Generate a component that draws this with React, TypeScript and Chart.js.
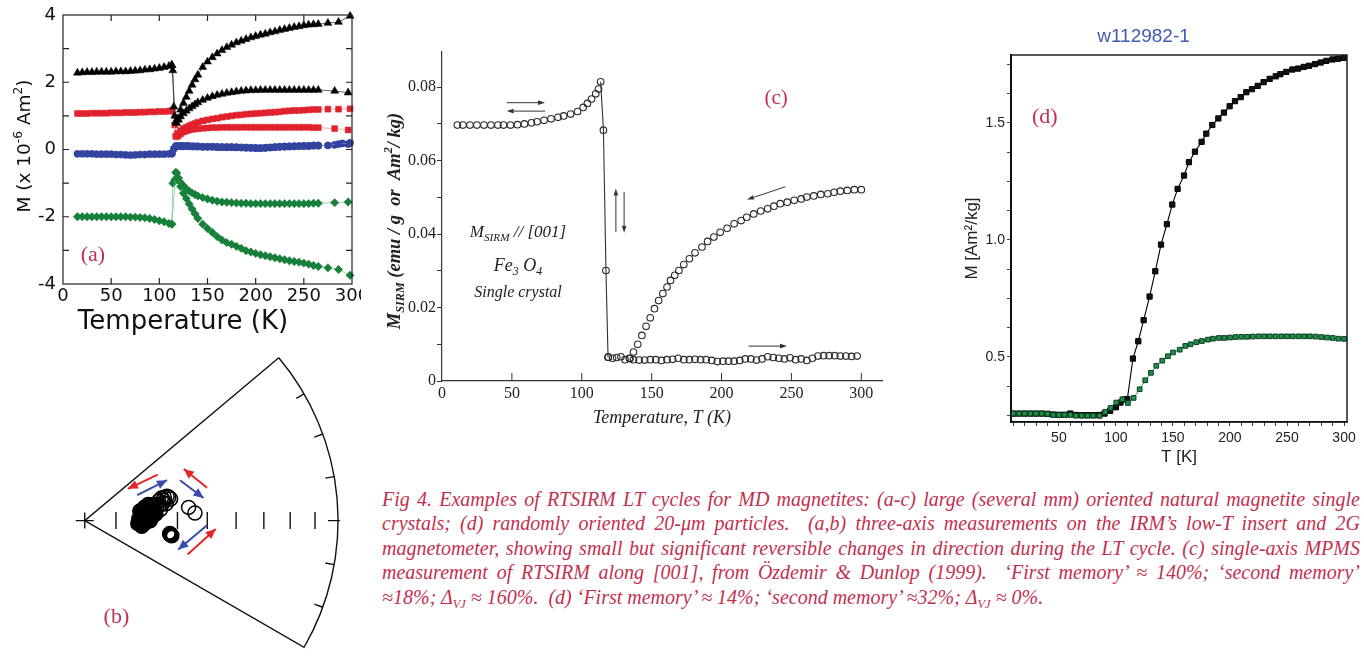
import React, { useEffect, useLayoutEffect, useRef } from "react";
import { Chart, registerables } from "chart.js";

Chart.register(...registerables);

const SANS = '"DejaVu Sans", sans-serif';
const ARIAL = '"Liberation Sans", Arial, sans-serif';
const SERIF = '"Liberation Serif", "Times New Roman", serif';
const LABEL_RED = "#c2304f";

// ---------------- Panel (a): three-axis components (x 10^-6 Am^2) ----------------
const aCoolT = [298, 286, 275, 265, 260, 255, 250, 245, 240, 235, 230, 225, 220, 215, 210, 205, 200, 195, 190, 185, 180, 175, 170, 165, 160, 155, 150, 145, 140, 137, 134, 131, 128, 125, 122, 119, 117, 113, 110, 105, 100, 95, 90, 85, 80, 75, 70, 65, 60, 55, 50, 45, 40, 35, 30, 25, 20, 15];
const aBlackCoolM = [3.97, 3.79, 3.76, 3.73, 3.72, 3.71, 3.69, 3.66, 3.64, 3.61, 3.58, 3.55, 3.51, 3.48, 3.44, 3.41, 3.37, 3.33, 3.28, 3.23, 3.18, 3.11, 3.04, 2.95, 2.85, 2.74, 2.61, 2.45, 2.22, 2.08, 1.92, 1.74, 1.56, 1.38, 1.18, 0.92, 0.82, 2.51, 2.48, 2.45, 2.42, 2.40, 2.38, 2.37, 2.35, 2.34, 2.33, 2.32, 2.32, 2.32, 2.31, 2.31, 2.31, 2.31, 2.30, 2.30, 2.29, 2.28];
const aRedCoolM = [1.21, 1.20, 1.20, 1.19, 1.19, 1.18, 1.17, 1.16, 1.16, 1.15, 1.14, 1.12, 1.11, 1.10, 1.09, 1.08, 1.07, 1.06, 1.05, 1.03, 1.02, 1.00, 0.98, 0.96, 0.93, 0.91, 0.88, 0.85, 0.81, 0.77, 0.74, 0.70, 0.66, 0.62, 0.56, 0.48, 0.40, 1.15, 1.14, 1.13, 1.13, 1.12, 1.12, 1.11, 1.11, 1.10, 1.10, 1.10, 1.09, 1.09, 1.09, 1.08, 1.08, 1.08, 1.08, 1.07, 1.07, 1.07];
const aBlueCoolM = [0.20, 0.16, 0.12, 0.11, 0.11, 0.10, 0.10, 0.10, 0.09, 0.09, 0.08, 0.08, 0.07, 0.06, 0.05, 0.04, 0.05, 0.05, 0.06, 0.06, 0.07, 0.07, 0.07, 0.07, 0.08, 0.08, 0.08, 0.08, 0.09, 0.09, 0.09, 0.10, 0.10, 0.10, 0.10, 0.10, 0.10, -0.12, -0.13, -0.14, -0.14, -0.14, -0.14, -0.15, -0.15, -0.16, -0.17, -0.16, -0.15, -0.15, -0.14, -0.14, -0.14, -0.14, -0.13, -0.13, -0.13, -0.13];
const aGreenCoolM = [-3.74, -3.57, -3.52, -3.48, -3.45, -3.41, -3.38, -3.35, -3.33, -3.31, -3.28, -3.25, -3.22, -3.19, -3.16, -3.13, -3.09, -3.05, -3.01, -2.94, -2.88, -2.82, -2.77, -2.69, -2.59, -2.47, -2.35, -2.22, -2.05, -1.91, -1.77, -1.62, -1.46, -1.30, -1.10, -0.85, -0.68, -2.22, -2.20, -2.15, -2.12, -2.08, -2.05, -2.03, -2.02, -2.01, -2.01, -2.00, -2.00, -2.00, -2.00, -2.00, -2.00, -2.00, -2.00, -2.00, -2.00, -2.00];

const aBlackWarmT = [113, 114, 115, 116, 118, 120, 122, 125, 128, 131, 134, 137, 140, 145, 150, 155, 160, 165, 170, 175, 180, 185, 190, 195, 200, 205, 210, 215, 220, 225, 230, 235, 240, 245, 250, 255, 260, 265, 282, 296];
const aBlackWarmM = [2.51, 2.35, 1.27, 1.0, 0.78, 0.88, 0.98, 1.07, 1.15, 1.22, 1.28, 1.34, 1.40, 1.47, 1.53, 1.58, 1.62, 1.65, 1.68, 1.70, 1.72, 1.74, 1.75, 1.76, 1.76, 1.77, 1.77, 1.77, 1.77, 1.77, 1.77, 1.77, 1.77, 1.77, 1.77, 1.77, 1.77, 1.77, 1.74, 1.69];
const aRedWarmT = [113, 116, 118, 120, 122, 125, 128, 131, 134, 137, 140, 145, 150, 155, 160, 165, 170, 175, 180, 185, 190, 195, 200, 205, 210, 215, 220, 225, 230, 235, 240, 245, 250, 255, 260, 265, 282, 296];
const aRedWarmM = [1.15, 0.73, 0.38, 0.42, 0.47, 0.52, 0.55, 0.58, 0.60, 0.61, 0.62, 0.63, 0.64, 0.65, 0.65, 0.66, 0.66, 0.66, 0.66, 0.66, 0.66, 0.66, 0.66, 0.66, 0.66, 0.66, 0.66, 0.66, 0.66, 0.66, 0.66, 0.66, 0.66, 0.66, 0.65, 0.65, 0.62, 0.58];
const aBlueWarmT = [113, 115, 118, 122, 125, 130, 135, 140, 145, 150, 155, 160, 165, 170, 175, 180, 185, 190, 195, 200, 205, 210, 215, 220, 225, 230, 235, 240, 245, 250, 255, 260, 265, 282, 290, 296];
const aBlueWarmM = [-0.12, 0.02, 0.10, 0.10, 0.10, 0.10, 0.09, 0.09, 0.08, 0.08, 0.08, 0.07, 0.07, 0.07, 0.07, 0.06, 0.06, 0.05, 0.05, 0.04, 0.04, 0.05, 0.06, 0.07, 0.08, 0.09, 0.09, 0.10, 0.10, 0.11, 0.11, 0.12, 0.12, 0.14, 0.18, 0.16];
const aGreenWarmT = [113, 114, 116, 118, 120, 122, 125, 128, 131, 134, 137, 140, 145, 150, 155, 160, 165, 170, 175, 180, 185, 190, 195, 200, 205, 210, 215, 220, 225, 230, 235, 240, 245, 250, 255, 260, 265, 282, 296];
const aGreenWarmM = [-2.22, -1.0, -0.9, -0.7, -0.85, -0.98, -1.08, -1.17, -1.24, -1.29, -1.34, -1.38, -1.43, -1.47, -1.51, -1.54, -1.56, -1.57, -1.58, -1.59, -1.60, -1.60, -1.61, -1.61, -1.61, -1.61, -1.61, -1.61, -1.61, -1.61, -1.61, -1.61, -1.61, -1.61, -1.61, -1.60, -1.60, -1.58, -1.56];

// ---------------- Panel (b): equal-area projection (normalised coordinates) ----------------
const bIncTicks = [80, 70, 60, 50, 40, 30, 20, 10];
const bDecTicks = [-20, -10, 10, 20, 30];
const bDecEdges = [-30, 40];
const bFilledX = [0.214, 0.221, 0.229, 0.236, 0.218, 0.244, 0.229, 0.210, 0.236, 0.255, 0.262, 0.273, 0.251, 0.266, 0.225, 0.280, 0.273, 0.258];
const bFilledY = [0.007, 0.026, 0.041, 0.052, 0.037, 0.026, 0.000, -0.011, -0.011, 0.037, 0.052, 0.063, 0.063, 0.015, -0.022, 0.026, 0.037, 0.000];
const bOpenX = [0.284, 0.295, 0.292, 0.303, 0.314, 0.325, 0.332, 0.339, 0.310, 0.299, 0.321, 0.310];
const bOpenY = [0.052, 0.059, 0.077, 0.089, 0.092, 0.096, 0.092, 0.085, 0.070, 0.044, 0.066, 0.081];
const bPairX = [0.410, 0.435];
const bPairY = [0.052, 0.030];
const bRingX = [0.339, 0.336, 0.343];
const bRingY = [-0.055, -0.052, -0.059];
const bArrowX1 = [0.288, 0.207, 0.483, 0.376, 0.483, 0.406];
const bArrowY1 = [0.181, 0.100, 0.129, 0.159, -0.018, -0.133];
const bArrowX2 = [0.170, 0.325, 0.391, 0.469, 0.369, 0.517];
const bArrowY2 = [0.125, 0.159, 0.203, 0.089, -0.114, -0.033];
const bArrowKind = ["warm", "cool", "warm", "cool", "cool", "warm"];

// ---------------- Panel (c): MPMS RTSIRM along [001] ----------------
const cCoolT = [300, 295, 290, 285, 280.5, 276, 271, 266, 261, 257, 252, 247, 242, 237.5, 233, 228, 223, 218, 214, 209, 204, 199, 194.5, 190, 186, 181, 177, 173, 169.5, 166.5, 163.5, 161, 158, 155, 152, 149, 146, 143, 140, 137, 134.5];
const cCoolM = [0.0521, 0.0521, 0.0519, 0.0517, 0.0514, 0.0510, 0.0508, 0.0504, 0.0501, 0.0496, 0.0492, 0.0487, 0.0483, 0.0476, 0.0469, 0.0463, 0.0455, 0.0446, 0.0437, 0.0428, 0.0416, 0.0405, 0.0392, 0.0380, 0.0365, 0.0349, 0.0333, 0.0317, 0.0301, 0.0288, 0.0274, 0.0256, 0.0238, 0.0219, 0.0197, 0.0172, 0.0149, 0.0124, 0.0100, 0.0079, 0.0061];
const cLowT = [11, 15, 20, 25, 30, 35, 40, 44, 49, 54, 59, 64, 68, 73, 78, 83, 87, 92, 97, 101, 104, 107, 110, 112];
const cLowM = [0.0697, 0.0697, 0.0697, 0.0697, 0.0697, 0.0697, 0.0697, 0.0697, 0.0697, 0.0698, 0.0700, 0.0703, 0.0706, 0.0710, 0.0714, 0.0718, 0.0722, 0.0727, 0.0734, 0.0745, 0.0756, 0.0768, 0.0782, 0.0795];
const cJumpT = [113.5, 115.5, 117.3, 118.8];
const cJumpM = [0.0815, 0.0683, 0.0301, 0.0065];
const cWarmT = [119, 122, 125, 128, 131, 134, 137, 141, 145, 149, 153, 157, 161, 165, 169, 173, 177, 181, 185, 189, 193, 197, 201, 205, 209, 213, 217, 221, 225, 229, 233, 237, 241, 245, 249, 253, 257, 261, 265, 269, 273, 277, 281, 285, 289, 293, 297];
const cWarmM = [0.0065, 0.0062, 0.0064, 0.0066, 0.0058, 0.0062, 0.0058, 0.0057, 0.0057, 0.0058, 0.0058, 0.0056, 0.0058, 0.0059, 0.0062, 0.0058, 0.0058, 0.0059, 0.0058, 0.0058, 0.0056, 0.0053, 0.0054, 0.0054, 0.0054, 0.0056, 0.0060, 0.0060, 0.0057, 0.0060, 0.0066, 0.0064, 0.0062, 0.0060, 0.0063, 0.0058, 0.0060, 0.0056, 0.0062, 0.0068, 0.0069, 0.0069, 0.0069, 0.0068, 0.0068, 0.0067, 0.0068];
const cArrowX1 = [46.3, 73.7, 124.4, 130.3, 245.6, 219.3];
const cArrowY1 = [0.0758, 0.0735, 0.0406, 0.0515, 0.0529, 0.0095];
const cArrowX2 = [73.7, 46.3, 124.4, 130.3, 218.2, 246.8];
const cArrowY2 = [0.0758, 0.0735, 0.0524, 0.0404, 0.0494, 0.0095];

// ---------------- Panel (d): w112982-1, 20 um particles ----------------
const dBlackT = [10, 15, 20, 25, 30, 35, 40, 45, 50, 55, 60, 65, 70, 75, 80, 85, 90, 95, 100, 104, 108, 110, 114.9, 119.6, 124.3, 129.5, 134.5, 139.5, 144.7, 149.4, 154.1, 159.7, 164.0, 169.3, 175.1, 179.2, 184.5, 189.8, 194.7, 199.7, 204.4, 209.4, 214.3, 219.3, 224.3, 229.5, 234.8, 240.1, 244.2, 249.4, 254.7, 259.7, 264.6, 269.3, 274.6, 279.5, 284.5, 289.8, 294.7, 299.7];
const dBlackM = [0.258, 0.258, 0.258, 0.258, 0.258, 0.258, 0.257, 0.254, 0.253, 0.253, 0.258, 0.252, 0.251, 0.251, 0.251, 0.252, 0.258, 0.270, 0.285, 0.305, 0.318, 0.320, 0.493, 0.567, 0.657, 0.758, 0.866, 0.980, 1.067, 1.151, 1.218, 1.275, 1.332, 1.377, 1.419, 1.454, 1.491, 1.519, 1.544, 1.571, 1.593, 1.610, 1.631, 1.644, 1.658, 1.674, 1.688, 1.699, 1.708, 1.718, 1.728, 1.732, 1.739, 1.744, 1.751, 1.758, 1.765, 1.771, 1.774, 1.778];
const dGreenT = [10, 15, 20, 25, 30, 35, 40, 45, 50, 55, 60, 65, 70, 75, 80, 85.7, 90.6, 95.3, 100.3, 105.6, 110.5, 115.5, 120.8, 125.7, 130.7, 135.4, 140.6, 145.6, 150, 155.9, 160.8, 165.5, 170.5, 175.4, 180.7, 185.1, 190.4, 195, 200, 205, 210, 215, 220, 225, 230, 235, 240, 245, 250, 255, 260, 265, 270, 275, 280, 285, 290, 295, 300];
const dGreenM = [0.258, 0.258, 0.258, 0.258, 0.258, 0.258, 0.257, 0.252, 0.252, 0.252, 0.252, 0.249, 0.249, 0.249, 0.249, 0.248, 0.265, 0.282, 0.305, 0.319, 0.303, 0.325, 0.362, 0.400, 0.432, 0.462, 0.484, 0.503, 0.519, 0.531, 0.547, 0.554, 0.563, 0.568, 0.574, 0.578, 0.581, 0.581, 0.583, 0.585, 0.586, 0.586, 0.587, 0.588, 0.588, 0.588, 0.588, 0.588, 0.588, 0.588, 0.588, 0.588, 0.588, 0.587, 0.585, 0.583, 0.581, 0.578, 0.577];

// ---------------- Caption ----------------
const captionLines = [
  [["Fig 4. Examples of RTSIRM LT cycles for MD magnetites: (a-c) large (several mm) oriented natural magnetite single", ""]],
  [["crystals; (d) randomly oriented 20-\u03bcm particles.  (a,b) three-axis measurements on the IRM\u2019s low-T insert and 2G", ""]],
  [["magnetometer, showing small but significant reversible changes in direction during the LT cycle. (c) single-axis MPMS", ""]],
  [["measurement of RTSIRM along [001], from \u00d6zdemir & Dunlop (1999).  \u2018First memory\u2019 \u2248 140%; \u2018second memory\u2019", ""]],
  [["\u224818%; \u0394", ""], ["VJ", "sub"], [" \u2248 160%.  (d) \u2018First memory\u2019 \u2248 14%; \u2018second memory\u2019 \u224832%; \u0394", ""], ["VJ", "sub"], [" \u2248 0%.", ""]],
];

// ---------------- helpers ----------------
const zip = (xs: number[], ys: number[]) => xs.map((x, i) => ({ x, y: ys[i] }));

function drawRich(ctx: CanvasRenderingContext2D, segs: string[][], x: number, y: number, font: any, color: string, align = "center", rot = 0) {
  ctx.save();
  ctx.translate(x, y);
  if (rot) ctx.rotate(rot);
  const fs = (sz: number) => `${font.style || "normal"} ${font.weight || "normal"} ${sz}px ${font.family}`;
  let total = 0;
  const parts = segs.map(([t, k]) => {
    const sz = k ? font.size * 0.66 : font.size;
    ctx.font = fs(sz);
    const w = ctx.measureText(t).width;
    total += w;
    return { t, k, sz, w };
  });
  let cx = align === "center" ? -total / 2 : align === "right" ? -total : 0;
  ctx.fillStyle = color;
  ctx.textBaseline = "middle";
  ctx.textAlign = "left";
  for (const p of parts) {
    ctx.font = fs(p.sz);
    const dy = p.k === "sub" ? font.size * 0.3 : p.k === "sup" ? -font.size * 0.32 : 0;
    ctx.fillText(p.t, cx, dy);
    cx += p.w;
  }
  ctx.restore();
}

function drawArrow(ctx: CanvasRenderingContext2D, x1: number, y1: number, x2: number, y2: number, color: string, lw: number, hl: number, hw: number) {
  const a = Math.atan2(y2 - y1, x2 - x1);
  const bx = x2 - hl * Math.cos(a);
  const by = y2 - hl * Math.sin(a);
  ctx.save();
  ctx.strokeStyle = color;
  ctx.fillStyle = color;
  ctx.lineWidth = lw;
  ctx.beginPath();
  ctx.moveTo(x1, y1);
  ctx.lineTo(bx, by);
  ctx.stroke();
  ctx.beginPath();
  ctx.moveTo(x2, y2);
  ctx.lineTo(bx + hw * Math.sin(a), by - hw * Math.cos(a));
  ctx.lineTo(bx - hw * Math.sin(a), by + hw * Math.cos(a));
  ctx.closePath();
  ctx.fill();
  ctx.restore();
}

function notesPlugin(notes: any[]) {
  return {
    id: "notes",
    afterDraw(chart: any) {
      const { ctx, scales } = chart;
      const sx = scales.x, sy = scales.y;
      for (const n of notes) {
        if (n.kind === "text") {
          const px = n.px ? n.x : sx.getPixelForValue(n.x);
          const py = n.px ? n.y : sy.getPixelForValue(n.y);
          drawRich(ctx, n.segs, px, py, n.font, n.color, n.align || "center", n.rot || 0);
        } else {
          drawArrow(ctx, sx.getPixelForValue(n.x1), sy.getPixelForValue(n.y1), sx.getPixelForValue(n.x2), sy.getPixelForValue(n.y2), n.color, n.width, n.hl, n.hw);
        }
      }
    },
  };
}

function framePlugin(o: any) {
  return {
    id: "frame",
    afterDraw(chart: any) {
      const { ctx, chartArea: a, scales } = chart;
      ctx.save();
      ctx.strokeStyle = o.color;
      ctx.lineWidth = o.lw;
      if (o.box) ctx.strokeRect(a.left, a.top, a.right - a.left, a.bottom - a.top);
      ctx.beginPath();
      for (const t of scales.x.ticks) {
        const p = scales.x.getPixelForValue(t.value);
        if (p <= a.left + 1 || p >= a.right - 1) continue;
        for (const s of o.xSides) {
          if (s === "bottom") { ctx.moveTo(p, a.bottom); ctx.lineTo(p, a.bottom - o.len); }
          else { ctx.moveTo(p, a.top); ctx.lineTo(p, a.top + o.len); }
        }
      }
      for (const t of scales.y.ticks) {
        const p = scales.y.getPixelForValue(t.value);
        if (p <= a.top + 1 || p >= a.bottom - 1) continue;
        for (const s of o.ySides) {
          if (s === "left") { ctx.moveTo(a.left, p); ctx.lineTo(a.left + o.len, p); }
          else { ctx.moveTo(a.right, p); ctx.lineTo(a.right - o.len, p); }
        }
      }
      ctx.stroke();
      ctx.restore();
    },
  };
}

const base = {
  responsive: false,
  animation: false,
  events: [],
};

// ---------------- configs ----------------
function makeA() {
  const ds = (data: any, style: string, color: string, line: string, r: number) => ({
    data, showLine: true, borderColor: line, borderWidth: 0.7, pointStyle: style, pointRadius: r,
    pointBackgroundColor: color, pointBorderColor: color, pointBorderWidth: 0.5, clip: 8,
  });
  const BLACK = "#000000", RED = "#e0222d", BLUE = "#33449e", GREEN = "#16803a";
  return {
    type: "scatter",
    data: {
      datasets: [
        ds(zip(aCoolT, aBlackCoolM), "triangle", BLACK, "#222", 4.6),
        ds(zip(aBlackWarmT, aBlackWarmM), "triangle", BLACK, "#222", 4.6),
        ds(zip(aCoolT, aRedCoolM), "rect", RED, "#f08a90", 4.2),
        ds(zip(aRedWarmT, aRedWarmM), "rect", RED, "#f08a90", 4.2),
        ds(zip(aCoolT, aBlueCoolM), "circle", BLUE, "#8890d0", 3.6),
        ds(zip(aBlueWarmT, aBlueWarmM), "circle", BLUE, "#8890d0", 3.6),
        ds(zip(aCoolT, aGreenCoolM), "rectRot", GREEN, "#70c090", 4.2),
        ds(zip(aGreenWarmT, aGreenWarmM), "rectRot", GREEN, "#70c090", 4.2),
      ],
    },
    options: {
      ...base,
      layout: { padding: { top: 15, right: 18, left: 0, bottom: 0 } },
      plugins: { legend: { display: false }, tooltip: { enabled: false } },
      scales: {
        x: {
          type: "linear", min: 0, max: 300,
          afterFit: (s: any) => { s.height = 56; s.paddingLeft = 0; s.paddingRight = 0; },
          ticks: { stepSize: 50, includeBounds: false, autoSkip: false, maxRotation: 0, padding: 2, color: "#111", font: { family: SANS, size: 18 } },
          grid: { display: false, drawTicks: false },
          border: { display: false },
          title: { display: false },
        },
        y: {
          type: "linear", min: -4, max: 4,
          afterFit: (s: any) => { s.width = 63; s.paddingTop = 0; s.paddingBottom = 0; },
          ticks: { stepSize: 1, includeBounds: false, autoSkip: false, padding: 7, color: "#111", font: { family: SANS, size: 18 },
            callback: (v: number) => (Math.round(v) % 2 === 0 ? String(v) : "") },
          grid: { display: false, drawTicks: false },
          border: { display: false },
          title: { display: false },
        },
      },
    },
    plugins: [
      framePlugin({ box: true, lw: 1.2, color: "#222", len: 6, xSides: ["bottom", "top"], ySides: ["left", "right"] }),
      notesPlugin([
        { kind: "text", x: 31, y: -3.14, segs: [["(a)", ""]], font: { family: SERIF, size: 22 }, color: LABEL_RED },
        { kind: "text", px: true, x: 183, y: 322, segs: [["Temperature (K)", ""]], font: { family: SANS, size: 26 }, color: "#111" },
        { kind: "text", px: true, x: 25, y: 146, rot: -Math.PI / 2, segs: [["M (x 10", ""], ["-6", "sup"], [" Am", ""], ["2", "sup"], [")", ""]], font: { family: SANS, size: 18.5 }, color: "#111" },
      ]),
    ],
  };
}

function makeB() {
  const arrows = bArrowX1.map((x1, i) => ({
    data: [{ x: x1, y: bArrowY1[i] }, { x: bArrowX2[i], y: bArrowY2[i] }],
    showLine: true, pointRadius: 0, borderWidth: 2,
    borderColor: bArrowKind[i] === "warm" ? "#e5232b" : "#3a4aa8", arrow: true, clip: false,
  }));
  const circles = (xs: number[], ys: number[], r: number, bw: number, fill: string) => ({
    data: zip(xs, ys), showLine: false, pointStyle: "circle", pointRadius: r, pointBorderWidth: bw,
    pointBorderColor: "#000", pointBackgroundColor: fill, clip: false,
  });
  const wedge = {
    id: "wedge",
    beforeDatasetsDraw(chart: any) {
      const { ctx, scales } = chart;
      const cx = scales.x.getPixelForValue(0), cy = scales.y.getPixelForValue(0);
      const R = scales.x.getPixelForValue(1) - cx;
      const ang = (d: number) => (-d * Math.PI) / 180;
      const [d0, d1] = bDecEdges;
      ctx.save();
      ctx.strokeStyle = "#111";
      ctx.lineWidth = 1.4;
      ctx.beginPath();
      ctx.moveTo(cx + R * Math.cos(ang(d1)), cy + R * Math.sin(ang(d1)));
      ctx.lineTo(cx, cy);
      ctx.lineTo(cx + R * Math.cos(ang(d0)), cy + R * Math.sin(ang(d0)));
      ctx.arc(cx, cy, R, ang(d0), ang(d1), true);
      ctx.stroke();
      ctx.beginPath();
      for (const d of bDecTicks) {
        const a = ang(d);
        ctx.moveTo(cx + R * Math.cos(a), cy + R * Math.sin(a));
        ctx.lineTo(cx + (R - 9) * Math.cos(a), cy + (R - 9) * Math.sin(a));
      }
      ctx.moveTo(cx + R - 10, cy);
      ctx.lineTo(cx + R + 2, cy);
      for (const inc of bIncTicks) {
        const r = Math.SQRT2 * Math.sin(((90 - inc) / 2) * Math.PI / 180);
        const px = cx + R * r;
        ctx.moveTo(px, cy - 8.5);
        ctx.lineTo(px, cy + 8.5);
      }
      ctx.moveTo(cx - 9, cy);
      ctx.lineTo(cx + 9, cy);
      ctx.moveTo(cx, cy - 8);
      ctx.lineTo(cx, cy + 8);
      ctx.stroke();
      ctx.restore();
    },
    afterDatasetsDraw(chart: any) {
      chart.data.datasets.forEach((ds: any, i: number) => {
        if (!ds.arrow) return;
        const pts = chart.getDatasetMeta(i).data;
        const p1 = pts[pts.length - 2], p2 = pts[pts.length - 1];
        const a = Math.atan2(p2.y - p1.y, p2.x - p1.x);
        const ctx = chart.ctx;
        const hl = 10, hw = 4.5;
        const bx = p2.x - hl * Math.cos(a), by = p2.y - hl * Math.sin(a);
        ctx.save();
        ctx.fillStyle = ds.borderColor;
        ctx.beginPath();
        ctx.moveTo(p2.x, p2.y);
        ctx.lineTo(bx + hw * Math.sin(a), by - hw * Math.cos(a));
        ctx.lineTo(bx - hw * Math.sin(a), by + hw * Math.cos(a));
        ctx.closePath();
        ctx.fill();
        ctx.restore();
      });
    },
  };
  return {
    type: "scatter",
    data: {
      datasets: [
        ...arrows,
        circles(bFilledX, bFilledY, 7, 1.8, "#000"),
        circles(bOpenX, bOpenY, 7, 1.6, "rgba(255,255,255,0)"),
        circles(bPairX, bPairY, 7, 1.5, "rgba(255,255,255,0)"),
        circles(bRingX, bRingY, 6.2, 3.6, "rgba(255,255,255,0)"),
      ],
    },
    options: {
      ...base,
      layout: { padding: 0 },
      plugins: { legend: { display: false }, tooltip: { enabled: false } },
      scales: {
        x: { type: "linear", display: false, min: -0.059, max: 1.048 },
        y: { type: "linear", display: false, min: -0.502, max: 0.672 },
      },
    },
    plugins: [
      wedge,
      notesPlugin([{ kind: "text", x: 0.125, y: -0.38, segs: [["(b)", ""]], font: { family: SERIF, size: 22 }, color: LABEL_RED }]),
    ],
  };
}

function makeC() {
  const circ = (data: any, line: boolean) => ({
    data, showLine: line, borderColor: "#333", borderWidth: 1.1, pointStyle: "circle", pointRadius: 3.3,
    pointBorderWidth: 1.1, pointBorderColor: "#2a2a2a", pointBackgroundColor: "rgba(255,255,255,0)", clip: false,
  });
  const TXT = "#222";
  const it = (size: number) => ({ family: SERIF, size, style: "italic" });
  const arrows = cArrowX1.map((x1, i) => ({ kind: "arrow", x1, y1: cArrowY1[i], x2: cArrowX2[i], y2: cArrowY2[i], color: "#333", width: 1, hl: 7, hw: 2.3 }));
  return {
    type: "scatter",
    data: {
      datasets: [
        circ(zip(cCoolT, cCoolM), false),
        circ(zip(cLowT, cLowM), false),
        circ(zip(cJumpT, cJumpM), true),
        circ(zip(cWarmT, cWarmM), false),
      ],
    },
    options: {
      ...base,
      layout: { padding: { top: 12, right: 48, left: 0, bottom: 0 } },
      plugins: { legend: { display: false }, tooltip: { enabled: false } },
      scales: {
        x: {
          type: "linear", min: 0, max: 314.8,
          afterFit: (s: any) => { s.height = 59; s.paddingLeft = 0; s.paddingRight = 0; },
          ticks: { stepSize: 50, includeBounds: false, autoSkip: false, maxRotation: 0, padding: 3, color: TXT, font: { family: SERIF, size: 16 } },
          grid: { display: false, drawTicks: false },
          border: { display: true, color: "#333", width: 1.2 },
          title: { display: true, text: "Temperature, T (K)", color: TXT, font: { family: SERIF, size: 18, style: "italic" }, padding: { top: 0, bottom: 11 } },
        },
        y: {
          type: "linear", min: 0, max: 0.0896,
          afterFit: (s: any) => { s.width = 72; s.paddingTop = 0; s.paddingBottom = 0; },
          ticks: { stepSize: 0.01, includeBounds: false, autoSkip: false, padding: 1, color: TXT, font: { family: SERIF, size: 16 },
            callback: (v: number) => { const k = Math.round(v * 100); return k % 2 === 0 ? (k === 0 ? "0" : (k / 100).toFixed(2)) : ""; } },
          grid: { display: true, drawOnChartArea: false, drawTicks: true, tickLength: 5, color: "#333" },
          border: { display: true, color: "#333", width: 1.2 },
          title: { display: false },
        },
      },
    },
    plugins: [
      framePlugin({ box: false, lw: 1, color: "#333", len: 8, xSides: ["bottom"], ySides: [] }),
      notesPlugin([
        ...arrows,
        { kind: "text", x: 54.4, y: 0.0403, segs: [["M", ""], ["SIRM", "sub"], [" // [001]", ""]], font: it(17), color: TXT },
        { kind: "text", x: 54.4, y: 0.0313, segs: [["Fe", ""], ["3", "sub"], [" O", ""], ["4", "sub"]], font: it(18), color: TXT },
        { kind: "text", x: 54.4, y: 0.0239, segs: [["Single crystal", ""]], font: it(16), color: TXT },
        { kind: "text", x: 239, y: 0.077, segs: [["(c)", ""]], font: { family: SERIF, size: 21 }, color: LABEL_RED },
        { kind: "text", px: true, x: 25, y: 181, rot: -Math.PI / 2, segs: [["M", ""], ["SIRM", "sub"], [" (emu / g  or  Am", ""], ["2", "sup"], ["/ kg)", ""]], font: { family: SERIF, size: 18.5, style: "italic", weight: "bold" }, color: TXT },
      ]),
    ],
  };
}

function makeD() {
  const TXT = "#222";
  return {
    type: "scatter",
    data: {
      datasets: [
        { data: zip(dGreenT, dGreenM), showLine: true, borderColor: "#2a8a50", borderWidth: 0.9, pointStyle: "rect", pointRadius: 3.3,
          pointBackgroundColor: "#1f8f4a", pointBorderColor: "#0b3d1f", pointBorderWidth: 1 },
        { data: zip(dBlackT, dBlackM), showLine: true, borderColor: "#000", borderWidth: 1.1, pointStyle: "rect", pointRadius: 3.7,
          pointBackgroundColor: "#111", pointBorderColor: "#000", pointBorderWidth: 1 },
      ],
    },
    options: {
      ...base,
      layout: { padding: { top: 0, right: 17, left: 0, bottom: 0 } },
      plugins: {
        legend: { display: false }, tooltip: { enabled: false },
        title: { display: true, text: "w112982-1", color: "#3e5cb0", font: { family: ARIAL, size: 19, weight: "normal" }, padding: { top: 5.6, bottom: 6.6 } },
      },
      scales: {
        x: {
          type: "linear", min: 8, max: 302.6,
          afterFit: (s: any) => { s.height = 48; s.paddingLeft = 0; s.paddingRight = 0; },
          ticks: { stepSize: 10, includeBounds: false, autoSkip: false, maxRotation: 0, padding: 4, color: TXT, font: { family: ARIAL, size: 14 },
            callback: (v: number) => (Math.round(v) % 50 === 0 ? String(Math.round(v)) : "") },
          grid: { display: true, drawOnChartArea: false, drawTicks: true, tickLength: 4, color: "#444" },
          border: { display: true, color: "#111", width: 1.5 },
          title: { display: true, text: "T [K]", color: TXT, font: { family: ARIAL, size: 17 }, padding: { top: 0, bottom: 2.8 } },
        },
        y: {
          type: "linear", min: 0.222, max: 1.79,
          afterFit: (s: any) => { s.width = 71; s.paddingTop = 0; s.paddingBottom = 0; },
          ticks: { stepSize: 0.125, includeBounds: false, autoSkip: false, padding: 2, color: TXT, font: { family: ARIAL, size: 14 },
            callback: (v: number) => { const q = v / 0.5; return Math.abs(q - Math.round(q)) < 1e-6 ? v.toFixed(1) : ""; } },
          grid: { display: true, drawOnChartArea: false, drawTicks: true, tickLength: 4, color: "#444" },
          border: { display: true, color: "#111", width: 2 },
          title: { display: true, text: "M [Am\u00b2/kg]", color: TXT, font: { family: ARIAL, size: 17 }, padding: { top: 21.8, bottom: 0 } },
        },
      },
    },
    plugins: [
      framePlugin({ box: true, lw: 1.4, color: "#111", len: 0, xSides: [], ySides: [] }),
      notesPlugin([{ kind: "text", x: 37.7, y: 1.526, segs: [["(d)", ""]], font: { family: SERIF, size: 22 }, color: LABEL_RED }]),
    ],
  };
}

// ---------------- components ----------------
function ChartBox({ left, top, width, height, clipW, make }: any) {
  const ref = useRef<HTMLCanvasElement | null>(null);
  useEffect(() => {
    const chart = new Chart(ref.current as any, make() as any);
    return () => chart.destroy();
  }, []);
  return (
    <div style={{ position: "absolute", left, top, width: clipW ?? width, height, overflow: "hidden" }}>
      <canvas ref={ref} width={width} height={height} style={{ display: "block", width, height }} />
    </div>
  );
}

const CAP_LEFT = 382;
const CAP_W = 978;

function Caption() {
  const refs = useRef<(HTMLSpanElement | null)[]>([]);
  useLayoutEffect(() => {
    const adjust = () => {
      refs.current.forEach((el, i) => {
        if (!el || i === captionLines.length - 1) return;
        el.style.wordSpacing = "0px";
        const w = el.getBoundingClientRect().width;
        const n = ((el.textContent || "").match(/ /g) || []).length;
        if (n) el.style.wordSpacing = `${(CAP_W - w) / n}px`;
      });
    };
    adjust();
    (document as any).fonts?.ready?.then(adjust);
  }, []);
  return (
    <div style={{ position: "absolute", left: CAP_LEFT, top: 486.5, fontFamily: SERIF, fontStyle: "italic", fontSize: 20, color: LABEL_RED, lineHeight: "24.5px", whiteSpace: "pre" }}>
      {captionLines.map((line, i) => (
        <div key={i} style={{ height: 24.5 }}>
          <span ref={(el) => { refs.current[i] = el; }} style={{ display: "inline-block" }}>
            {line.map(([t, k], j) =>
              k === "sub" ? (
                <span key={j} style={{ fontSize: "0.62em", position: "relative", top: "0.35em" }}>{t}</span>
              ) : (
                <React.Fragment key={j}>{t}</React.Fragment>
              )
            )}
          </span>
        </div>
      ))}
    </div>
  );
}

export default function App() {
  return (
    <div style={{ position: "fixed", left: 0, top: 0, width: 1364, height: 658, background: "#fff", overflow: "hidden" }}>
      <ChartBox left={0} top={0} width={370} height={340} clipW={361} make={makeA} />
      <ChartBox left={60} top={340} width={300} height={318} make={makeB} />
      <ChartBox left={370} top={40} width={560} height={400} make={makeC} />
      <ChartBox left={940} top={20} width={424} height={450} make={makeD} />
      <Caption />
    </div>
  );
}
